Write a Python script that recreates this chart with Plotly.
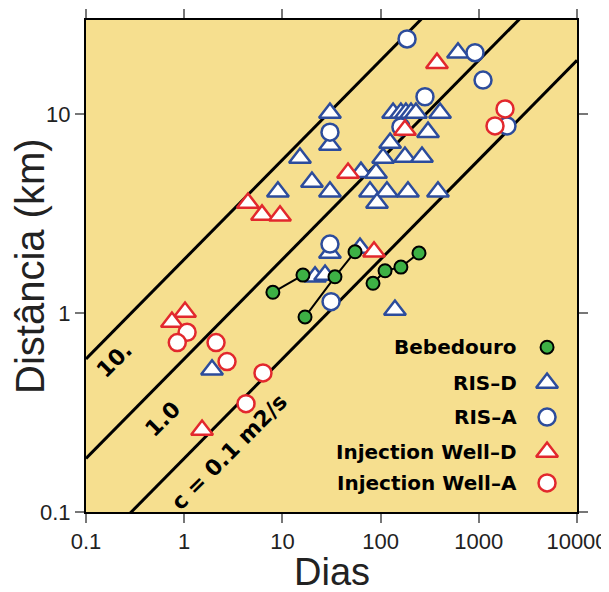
import math
import plotly.graph_objects as go

# ---------------- data ----------------
# diffusivity lines r = sqrt(4 c t)
diff_c = [10.0, 1.0, 0.1]            # m2/s
diff_labels = ["10.", "1.0", "c = 0.1 m2/s"]
line_t = [0.1, 10000.0]              # days

bebe_t = [8.0, 16.2, None, 17.0, 34.3, 54.9, None, 83.7, 111, 161, 246]
bebe_r = [1.27, 1.55, None, 0.955, 1.52, 2.03, None, 1.41, 1.63, 1.70, 2.00]

risd_t = [1.92, 140, 21.5, 27.2, 30.5, 61.7, 9.0, 15.1, 20.0, 30.5, 30.5, 30.5,
          63.1, 89.8, 78, 116, 91.9, 190, 384, 106, 177, 264, 125, 304,
          134, 161, 181, 204, 229, 403, 614]
risd_r = [0.518, 1.035, 1.52, 1.55, 2.0, 2.12, 4.06, 6.0, 4.55, 4.06, 6.98, 10.1,
          5.1, 5.05, 4.06, 4.06, 3.57, 4.06, 4.06, 6.0, 6.08, 6.08, 7.15, 8.1,
          10.1, 10.1, 10.1, 10.1, 10.1, 10.1, 20.3]

risa_t = [186, 30.5, 283, 915, 1104, 1936, 30.5, 31.3, 161]
risa_r = [23.8, 8.1, 12.2, 20.3, 14.8, 8.7, 2.22, 1.14, 8.6]

injd_t = [375, 46.6, 177, 4.46, 6.2, 9.46, 85.7, 1.02, 0.75, 1.52]
injd_r = [18.0, 5.05, 8.3, 3.57, 3.11, 3.08, 2.03, 1.01, 0.90, 0.258]

inja_t = [1849, 1462, 1.07, 0.85, 2.11, 2.73, 6.34, 4.26]
inja_r = [10.6, 8.7, 0.80, 0.71, 0.71, 0.57, 0.50, 0.35]

x_ticks = [0.1, 1, 10, 100, 1000, 10000]
x_ticktext = ["0.1", "1", "10", "100", "1000", "10000"]
y_ticks = [0.1, 1, 10]
y_ticktext = ["0.1", "1", "10"]

legend_names = ["Bebedouro", "RIS\u2013D", "RIS\u2013A", "Injection Well\u2013D", "Injection Well\u2013A"]

# ---------------- styles ----------------
BLUE = "#2C4C9C"
RED = "#E2282D"
GREEN = "#3DB045"
BG = "#F6DF8F"
FONT = "Liberation Sans, Arial, sans-serif"
BFONT = "DejaVu Sans, Liberation Sans, sans-serif"

fig = go.Figure()

# diffusion lines
for c in diff_c:
    r = [math.sqrt(4 * c * t * 86400.0) / 1000.0 for t in line_t]
    fig.add_trace(go.Scatter(x=line_t, y=r, mode="lines",
                             line=dict(color="black", width=3),
                             showlegend=False, hoverinfo="skip"))

tri = dict(symbol="triangle-up", size=19, color="white")
circ = dict(symbol="circle", size=17, color="white")

fig.add_trace(go.Scatter(x=risd_t, y=risd_r, mode="markers", name=legend_names[1],
                         marker=dict(**tri, line=dict(color=BLUE, width=2.5)), showlegend=False))
fig.add_trace(go.Scatter(x=risa_t, y=risa_r, mode="markers", name=legend_names[2],
                         marker=dict(**circ, line=dict(color=BLUE, width=2.5)), showlegend=False))
fig.add_trace(go.Scatter(x=injd_t, y=injd_r, mode="markers", name=legend_names[3],
                         marker=dict(**tri, line=dict(color=RED, width=2.5)), showlegend=False))
fig.add_trace(go.Scatter(x=inja_t, y=inja_r, mode="markers", name=legend_names[4],
                         marker=dict(**circ, line=dict(color=RED, width=2.5)), showlegend=False))
fig.add_trace(go.Scatter(x=bebe_t, y=bebe_r, mode="lines+markers", name=legend_names[0],
                         line=dict(color="black", width=2),
                         marker=dict(symbol="circle", size=13, color=GREEN,
                                     line=dict(color="black", width=2)),
                         showlegend=False))

# ---------------- custom legend (symbols right of text) ----------------
leg_y = [0.335, 0.262, 0.193, 0.122, 0.059]
leg_marker_x = 0.939
leg_text_x = 0.882
leg_styles = [
    dict(symbol="circle", size=13, color=GREEN, line=dict(color="black", width=2)),
    dict(symbol="triangle-up", size=19, color="white", line=dict(color=BLUE, width=2.5)),
    dict(symbol="circle", size=17, color="white", line=dict(color=BLUE, width=2.5)),
    dict(symbol="triangle-up", size=19, color="white", line=dict(color=RED, width=2.5)),
    dict(symbol="circle", size=17, color="white", line=dict(color=RED, width=2.5)),
]
for name, yy, st in zip(legend_names, leg_y, leg_styles):
    fig.add_trace(go.Scatter(x=[leg_marker_x], y=[yy], xaxis="x2", yaxis="y2",
                             mode="markers", marker=st, showlegend=False, hoverinfo="skip"))
    fig.add_annotation(x=leg_text_x, y=yy, xref="paper", yref="paper", text=name,
                       showarrow=False, xanchor="right", yanchor="middle",
                       font=dict(family=BFONT, size=20, color="black", weight="bold"))

# line labels (log10 positions)
label_pos = [(-0.705, -0.236), (-0.226, -0.533), (0.466, -0.698)]
for txt, (lx, ly) in zip(diff_labels, label_pos):
    fig.add_annotation(x=lx, y=ly, xref="x", yref="y", text=txt, showarrow=False,
                       textangle=-45, xanchor="center", yanchor="middle",
                       font=dict(family=BFONT, size=22, color="black", weight="bold"))

# axis titles
fig.add_annotation(x=0.5, y=0, xref="paper", yref="paper", text="Dias", showarrow=False,
                   yshift=-60, xanchor="center", yanchor="middle",
                   font=dict(family=FONT, size=38, color="#222"))
fig.add_annotation(x=0, y=0.5, xref="paper", yref="paper", text="Dist\u00e2ncia (km)",
                   showarrow=False, xshift=-56, textangle=-90, xanchor="center",
                   yanchor="middle", font=dict(family=FONT, size=40, color="#222"))

axis_common = dict(showline=True, linecolor="black", linewidth=2, mirror="ticks",
                   ticks="outside", ticklen=9, tickwidth=1.5, tickcolor="#777",
                   showgrid=False, zeroline=False, automargin=False,
                   tickfont=dict(family=FONT, size=22, color="#222"))

# the page body adds an 8px offset, so the figure is 8px smaller and margins shifted
fig.update_layout(
    width=601, height=584, autosize=False,
    margin=dict(l=78, r=32, t=12, b=80),
    paper_bgcolor="white", plot_bgcolor=BG,
    showlegend=False,
    xaxis=dict(type="log", range=[-1, 4], tickvals=x_ticks, ticktext=x_ticktext, **axis_common),
    yaxis=dict(type="log", range=[-1, 1.472], tickvals=y_ticks, ticktext=y_ticktext, **axis_common),
    xaxis2=dict(overlaying="x", range=[0, 1], visible=False),
    yaxis2=dict(overlaying="y", range=[0, 1], visible=False),
)

fig.write_html("out.html")
